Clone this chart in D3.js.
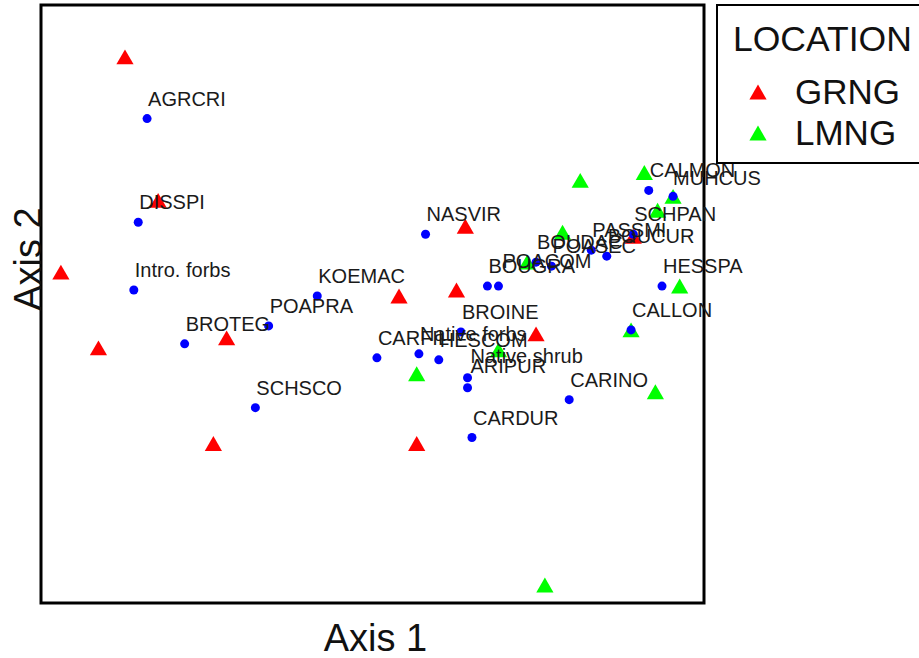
<!DOCTYPE html>
<html>
<head>
<meta charset="utf-8">
<script src="https://cdn.jsdelivr.net/npm/d3@7"></script>
<style>
  html, body { margin: 0; padding: 0; background: #fff; }
  svg { display: block; font-family: "Liberation Sans", Arial, sans-serif; }
</style>
</head>
<body>
<svg id="chart" width="919" height="658"></svg>
<script>
// Ordination scores: sites (grouped by location) and species / functional groups
const siteGroups = [
  "GRNG","GRNG","GRNG","GRNG","GRNG","GRNG","GRNG","GRNG","GRNG","GRNG","GRNG","GRNG",
  "LMNG","LMNG","LMNG","LMNG","LMNG","LMNG","LMNG","LMNG","LMNG","LMNG","LMNG","LMNG"
];
const siteAxis1 = [-1.22, -1.07, -1.51, -1.34, -0.76, -0.82, 0.02, 0.28, 0.32, 0.64, 0.10, 1.08,
                    0.84, 1.13, 1.26, 1.19, 0.76, 0.60, 1.29, 1.07, 1.18, 0.47, 0.10, 0.68];
const siteAxis2 = [1.24, 0.52, 0.16, -0.22, -0.17, -0.70, 0.04, 0.07, 0.39, -0.15, -0.70, 0.34,
                   0.62, 0.66, 0.54, 0.47, 0.36, 0.21, 0.09, -0.13, -0.44, -0.23, -0.35, -1.41];

const speciesNames = ["AGRCRI","DISSPI","Intro. forbs","BROTEG","POAPRA","KOEMAC","SCHSCO","NASVIR",
  "BROINE","CARFIL","Native forbs","HESCOM","Native shrub","ARIPUR","CARDUR","CARINO","CALLON",
  "HESSPA","SCHPAN","CALMON","MUHCUS","PASSMI","BOUCUR","POASEC","BOUDAC","BOUGRA","POACOM"];
const speciesAxis1 = [-1.12, -1.16, -1.18, -0.95, -0.57, -0.35, -0.63, 0.14,
  0.30, -0.08, 0.11, 0.20, 0.33, 0.33, 0.35, 0.79, 1.07,
  1.21, 1.08, 1.15, 1.26, 0.89, 0.96, 0.71, 0.64, 0.42, 0.47];
const speciesAxis2 = [0.93, 0.41, 0.07, -0.20, -0.11, 0.04, -0.52, 0.35,
  -0.14, -0.27, -0.25, -0.28, -0.37, -0.42, -0.67, -0.48, -0.13,
  0.09, 0.35, 0.57, 0.54, 0.27, 0.24, 0.19, 0.21, 0.09, 0.09];

const legendGroups = ["GRNG", "LMNG"];
const groupColors = ["#ff0000", "#00ff00"];

// Label placement: default offset above-right of the point, with a few nudges
const labelOffset = { dx: 1, dy: -13 };
const labelNudge = { "POACOM": [4, -18], "Native shrub": [3, -15], "ARIPUR": [3, -15], "MUHCUS": [0, -11] };

const svg = d3.select("#chart");
const frame = { left: 41, right: 704, top: 5, bottom: 603 };

const x = d3.scaleLinear().domain([-1.6, 1.4]).range([frame.left, frame.right]);
const y = d3.scaleLinear().domain([-1.5, 1.5]).range([frame.bottom, frame.top]);
const color = d3.scaleOrdinal().domain(legendGroups).range(groupColors);

// Triangle centred on its bounding box
const triangle = {
  draw(ctx, size) {
    const s = Math.sqrt(size * 4 / Math.sqrt(3));
    const h = s * Math.sqrt(3) / 2;
    ctx.moveTo(0, -h / 2);
    ctx.lineTo(s / 2, h / 2);
    ctx.lineTo(-s / 2, h / 2);
    ctx.closePath();
  }
};
const triPath = d3.symbol().type(triangle).size(128);

const sites = siteGroups.map((g, i) => ({ group: g, a1: siteAxis1[i], a2: siteAxis2[i] }));
const species = speciesNames.map((n, i) => ({ name: n, a1: speciesAxis1[i], a2: speciesAxis2[i] }));

// Plot frame
svg.append("rect")
  .attr("x", frame.left).attr("y", frame.top)
  .attr("width", frame.right - frame.left).attr("height", frame.bottom - frame.top)
  .attr("fill", "#fff").attr("stroke", "#000").attr("stroke-width", 3);

// Site markers
svg.append("g").selectAll("path").data(sites).join("path")
  .attr("d", triPath)
  .attr("transform", d => `translate(${x(d.a1)},${y(d.a2)})`)
  .attr("fill", d => color(d.group));

// Species points
svg.append("g").selectAll("circle").data(species).join("circle")
  .attr("cx", d => x(d.a1)).attr("cy", d => y(d.a2))
  .attr("r", 4.5).attr("fill", "#0000ff");

// Species labels
svg.append("g").selectAll("text").data(species).join("text")
  .attr("x", d => x(d.a1) + (labelNudge[d.name] ? labelNudge[d.name][0] : labelOffset.dx))
  .attr("y", d => y(d.a2) + (labelNudge[d.name] ? labelNudge[d.name][1] : labelOffset.dy))
  .attr("font-size", 20).attr("fill", "#1a1a1a")
  .text(d => d.name);

// Axis titles
svg.append("text")
  .attr("x", (frame.left + frame.right) / 2 + 3).attr("y", 651)
  .attr("text-anchor", "middle").attr("font-size", 38).attr("fill", "#111")
  .text("Axis 1");
svg.append("text")
  .attr("transform", `translate(${frame.left},259) rotate(-90)`)
  .attr("text-anchor", "middle").attr("font-size", 38).attr("fill", "#111")
  .text("Axis 2");

// Legend (box runs off the right edge)
const legend = svg.append("g");
legend.append("rect")
  .attr("x", 717).attr("y", 5).attr("width", 260).attr("height", 158)
  .attr("fill", "#fff").attr("stroke", "#000").attr("stroke-width", 2);
legend.append("text")
  .attr("x", 733).attr("y", 51).attr("font-size", 35.5).attr("fill", "#111")
  .text("LOCATION");
const items = legend.selectAll("g.item").data(legendGroups).join("g")
  .attr("class", "item")
  .attr("transform", (d, i) => `translate(0,${92 + i * 41})`);
items.append("path")
  .attr("d", triPath)
  .attr("transform", "translate(758,0)")
  .attr("fill", d => color(d));
items.append("text")
  .attr("x", 795).attr("y", 12).attr("font-size", 35).attr("fill", "#111")
  .text(d => d);
</script>
</body>
</html>
